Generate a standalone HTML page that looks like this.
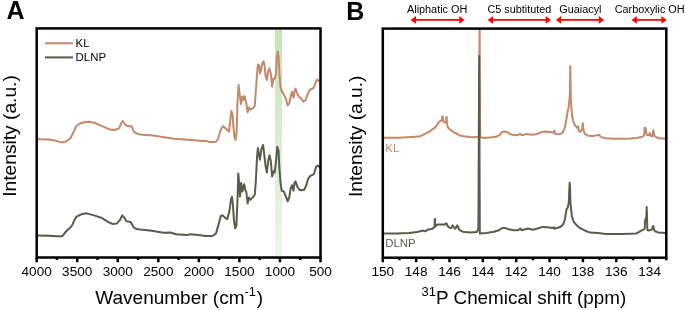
<!DOCTYPE html>
<html><head><meta charset="utf-8"><style>
html,body{margin:0;padding:0;background:#fff;}
svg{display:block;font-family:"Liberation Sans",sans-serif;will-change:transform;}
</style></head><body>
<svg width="685" height="310" viewBox="0 0 685 310">
<rect width="685" height="310" fill="#fff"/>
<defs>
<linearGradient id="g" x1="0" y1="0" x2="0" y2="1"><stop offset="0" stop-color="#c6e3bb"/><stop offset="1" stop-color="#edf6ea"/></linearGradient>
<clipPath id="ca"><rect x="36.7" y="28.4" width="283.8" height="229.1"/></clipPath>
<clipPath id="cb"><rect x="382.8" y="28.6" width="283.49999999999994" height="229.1"/></clipPath>
</defs>
<rect x="275" y="29.4" width="7" height="226.6" fill="url(#g)"/>
<g clip-path="url(#ca)" fill="none" stroke-width="2.0" stroke-linejoin="round">
<path d="M37.5,139.3 L48.6,139.5 L55.0,140.6 L58.0,141.4 L61.8,142.4 L65.0,141.8 L67.5,140.6 L70.7,137.8 L73.5,132.0 L76.5,125.8 L78.7,124.2 L81.0,123.2 L84.3,122.2 L88.9,121.8 L94.5,122.8 L97.0,123.8 L103.3,126.7 L109.6,129.4 L114.8,130.0 L119.0,128.4 L121.1,123.5 L122.8,121.0 L125.3,124.8 L128.5,126.3 L131.6,126.3 L133.8,131.6 L136.9,133.6 L140.0,134.5 L145.3,134.9 L151.3,135.3 L162.6,137.0 L173.9,138.7 L185.2,139.6 L196.5,140.4 L201.0,140.7 L207.2,141.3 L210.0,142.1 L215.7,142.0 L218.1,138.8 L220.5,130.4 L223.0,126.0 L226.6,129.2 L229.0,131.6 L230.2,120.7 L231.4,111.0 L232.6,114.7 L233.3,125.6 L234.5,137.6 L235.7,140.0 L236.7,130.4 L237.4,103.8 L238.6,85.0 L239.9,96.0 L241.0,104.0 L242.2,96.5 L243.3,100.0 L244.5,96.0 L245.5,100.0 L246.3,103.2 L247.6,112.3 L248.9,107.6 L250.2,109.7 L252.7,108.4 L254.8,105.8 L255.8,91.6 L257.1,73.5 L257.9,64.5 L259.2,65.8 L260.0,73.5 L261.3,68.4 L262.5,62.7 L263.6,61.4 L264.6,65.8 L265.6,76.1 L266.9,80.0 L268.2,71.0 L269.5,68.4 L270.8,73.5 L272.1,86.5 L273.4,78.7 L274.7,78.7 L276.0,73.5 L276.7,58.0 L277.8,51.6 L278.5,55.5 L279.3,71.0 L280.4,86.5 L281.0,89.0 L282.3,92.0 L283.9,94.8 L285.8,98.7 L287.7,105.5 L289.3,103.5 L290.6,96.8 L292.0,92.0 L292.8,94.8 L293.5,97.7 L294.5,91.0 L295.5,88.6 L297.4,93.9 L299.4,97.2 L301.3,98.3 L303.2,101.6 L305.2,100.6 L307.1,95.8 L309.0,91.0 L311.0,89.0 L312.9,88.6 L314.4,86.1 L315.8,82.3 L317.2,79.4 L318.7,80.9 L320.0,81.3" stroke="#c4896a"/>
<path d="M37.5,235.6 L48.6,235.8 L57.0,236.2 L62.3,236.2 L66.3,231.2 L70.8,227.0 L72.6,224.5 L73.6,221.9 L75.0,219.0 L76.4,216.9 L78.7,215.5 L81.5,214.3 L84.3,213.6 L87.7,213.6 L94.9,215.6 L101.2,217.7 L107.5,221.7 L112.7,224.0 L116.9,223.4 L120.1,219.8 L122.2,215.4 L123.9,217.1 L126.4,221.3 L130.6,221.9 L133.8,227.6 L136.9,229.1 L140.0,229.6 L147.4,230.3 L151.7,230.8 L163.4,232.8 L170.4,232.5 L176.2,234.3 L186.7,235.1 L190.2,234.3 L198.4,235.1 L205.4,236.0 L212.4,236.0 L215.9,233.7 L218.3,225.4 L220.7,216.2 L222.4,215.2 L224.3,216.9 L227.2,219.3 L229.2,212.1 L231.1,198.8 L232.0,196.9 L232.8,203.6 L234.0,220.6 L235.2,228.3 L236.4,225.4 L237.6,196.4 L238.3,173.5 L239.3,184.3 L240.0,196.4 L241.2,183.1 L242.4,191.6 L243.2,188.0 L244.1,184.3 L245.3,190.0 L246.3,192.0 L247.6,203.5 L248.9,197.6 L250.2,199.7 L252.7,197.6 L254.8,194.5 L255.8,181.6 L257.1,155.8 L257.9,148.0 L259.2,155.8 L260.0,159.7 L261.3,149.4 L263.1,145.0 L264.4,155.8 L265.6,166.1 L266.9,172.6 L268.2,161.0 L269.5,155.3 L270.8,161.0 L272.1,176.5 L273.4,171.3 L274.7,172.6 L276.0,161.0 L277.3,146.8 L278.5,150.6 L279.3,166.1 L280.4,181.6 L281.6,190.6 L283.9,191.6 L285.8,196.4 L287.7,201.3 L289.3,197.4 L290.6,188.7 L292.0,185.2 L292.8,188.7 L293.5,190.6 L294.5,182.9 L295.5,181.4 L297.4,186.8 L299.4,189.7 L301.3,190.3 L304.2,189.7 L306.1,185.8 L308.1,179.0 L310.0,176.1 L311.9,175.2 L313.9,174.2 L314.8,171.3 L316.2,166.5 L317.7,165.5 L320.0,167.4" stroke="#575e48"/>
</g>
<g clip-path="url(#cb)" fill="none" stroke-width="2.0" stroke-linejoin="round">
<path d="M383.5,137.8 L399.4,137.8 L414.9,136.8 L420.0,136.3 L425.8,133.4 L430.0,131.3 L432.3,129.3 L434.6,127.8 L436.2,126.3 L437.7,123.9 L439.3,121.6 L440.8,120.8 L442.0,120.4 L442.3,116.2 L442.7,116.2 L443.0,120.4 L443.9,121.6 L445.1,122.8 L446.1,121.6 L446.3,117.0 L446.7,117.0 L446.9,121.6 L447.4,125.5 L448.2,127.8 L449.7,129.3 L451.7,130.9 L454.0,132.4 L456.0,133.2 L459.2,135.2 L463.6,136.3 L470.0,137.1 L473.0,137.2 L478.9,136.8 L479.6,20.0 L480.2,137.0 L483.2,137.9 L489.7,137.4 L496.1,136.8 L499.4,135.2 L501.8,132.3 L504.2,131.5 L507.4,131.9 L509.0,133.5 L512.3,134.7 L517.1,135.2 L520.3,133.9 L521.9,135.2 L526.8,133.9 L531.6,134.7 L536.5,134.2 L541.3,132.3 L544.5,131.5 L549.4,131.9 L552.6,132.6 L554.5,130.6 L555.0,133.9 L559.0,134.2 L562.3,133.1 L563.4,131.0 L565.0,127.2 L566.0,121.0 L567.0,115.5 L567.8,110.5 L568.6,108.0 L569.3,101.0 L569.9,95.0 L570.3,66.0 L570.7,95.0 L571.1,103.0 L571.6,110.5 L572.2,116.3 L573.2,121.0 L574.3,124.1 L575.8,126.4 L577.3,127.9 L578.1,126.4 L578.9,131.0 L580.4,131.8 L582.0,129.5 L582.8,123.3 L583.5,130.2 L585.1,134.1 L588.0,135.7 L593.9,135.9 L598.9,134.7 L601.3,137.1 L606.1,138.2 L614.2,138.7 L622.3,138.7 L630.3,138.4 L636.8,137.9 L641.6,137.1 L644.0,135.5 L644.8,127.4 L645.6,128.2 L646.5,134.7 L648.9,135.2 L649.7,133.1 L650.5,135.8 L652.1,136.3 L653.4,130.3 L654.2,135.8 L657.7,137.9 L665.5,138.7" stroke="#c4896a"/>
<path d="M383.5,233.5 L396.1,233.5 L409.0,233.1 L417.1,231.9 L423.5,230.6 L425.0,231.3 L427.5,229.8 L430.0,229.2 L432.5,228.8 L433.8,227.5 L434.6,227.1 L434.8,219.1 L435.1,219.1 L435.2,226.3 L436.3,225.4 L437.6,224.6 L440.1,224.6 L442.6,224.4 L444.3,224.7 L446.0,223.3 L447.0,224.2 L448.0,226.7 L450.1,227.9 L451.4,227.9 L452.7,225.4 L453.9,227.1 L455.2,228.8 L456.4,227.1 L457.3,225.4 L458.1,226.7 L459.0,229.2 L460.2,230.3 L462.7,231.7 L465.2,232.1 L470.0,232.5 L476.8,231.9 L478.4,229.0 L479.2,56.0 L479.8,233.4 L486.1,232.9 L494.1,231.8 L499.0,230.2 L502.2,228.1 L505.4,228.1 L508.6,229.2 L513.5,230.2 L518.3,230.2 L520.3,228.5 L521.5,230.2 L528.0,228.5 L532.8,229.7 L537.7,228.5 L542.5,226.9 L547.4,227.3 L552.2,228.1 L553.8,227.3 L554.6,228.9 L556.0,228.2 L560.7,226.7 L563.5,223.8 L565.0,219.2 L565.8,213.5 L566.7,208.8 L567.8,207.5 L568.8,202.3 L569.3,190.0 L569.7,182.6 L570.1,190.0 L570.4,202.3 L571.0,207.9 L571.9,216.3 L573.8,222.0 L576.6,225.2 L580.1,228.2 L585.2,230.7 L590.3,232.6 L598.0,233.0 L605.7,233.9 L622.0,234.0 L630.2,233.7 L636.0,233.6 L640.9,230.8 L644.0,229.4 L644.8,228.0 L645.2,219.6 L645.8,222.0 L646.4,215.0 L646.7,207.1 L647.0,215.0 L647.3,229.5 L648.2,230.6 L650.7,230.0 L652.2,229.2 L652.8,226.3 L653.4,226.3 L654.0,229.5 L655.0,231.2 L658.0,232.4 L665.5,233.0" stroke="#575e48"/>
</g>
<rect x="36.7" y="28.4" width="283.80" height="229.10" fill="none" stroke="#000" stroke-width="2.5"/>
<rect x="382.8" y="28.6" width="283.50" height="229.10" fill="none" stroke="#000" stroke-width="2.5"/>
<path d="M36.70,257.5 V262.15 M56.97,257.5 V259.95 M77.24,257.5 V262.15 M97.51,257.5 V259.95 M117.79,257.5 V262.15 M138.06,257.5 V259.95 M158.33,257.5 V262.15 M178.60,257.5 V259.95 M198.87,257.5 V262.15 M219.14,257.5 V259.95 M239.41,257.5 V262.15 M259.69,257.5 V259.95 M279.96,257.5 V262.15 M300.23,257.5 V259.95 M320.50,257.5 V262.15 M382.80,257.7 V262.34999999999997 M399.48,257.7 V260.15 M416.15,257.7 V262.34999999999997 M432.83,257.7 V260.15 M449.51,257.7 V262.34999999999997 M466.18,257.7 V260.15 M482.86,257.7 V262.34999999999997 M499.54,257.7 V260.15 M516.21,257.7 V262.34999999999997 M532.89,257.7 V260.15 M549.56,257.7 V262.34999999999997 M566.24,257.7 V260.15 M582.92,257.7 V262.34999999999997 M599.59,257.7 V260.15 M616.27,257.7 V262.34999999999997 M632.95,257.7 V260.15 M649.62,257.7 V262.34999999999997 M666.30,257.7 V260.15" stroke="#000" stroke-width="2.5" fill="none"/>
<g font-size="13.6" fill="#000"><text x="36.70" y="275.8" text-anchor="middle">4000</text><text x="77.24" y="275.8" text-anchor="middle">3500</text><text x="117.79" y="275.8" text-anchor="middle">3000</text><text x="158.33" y="275.8" text-anchor="middle">2500</text><text x="198.87" y="275.8" text-anchor="middle">2000</text><text x="239.41" y="275.8" text-anchor="middle">1500</text><text x="279.96" y="275.8" text-anchor="middle">1000</text><text x="320.50" y="275.8" text-anchor="middle">500</text><text x="382.80" y="275.8" text-anchor="middle">150</text><text x="416.15" y="275.8" text-anchor="middle">148</text><text x="449.51" y="275.8" text-anchor="middle">146</text><text x="482.86" y="275.8" text-anchor="middle">144</text><text x="516.21" y="275.8" text-anchor="middle">142</text><text x="549.56" y="275.8" text-anchor="middle">140</text><text x="582.92" y="275.8" text-anchor="middle">138</text><text x="616.27" y="275.8" text-anchor="middle">136</text><text x="649.62" y="275.8" text-anchor="middle">134</text></g>
<text x="95.3" y="304.4" font-size="19">Wavenumber (cm<tspan dy="-8.4" font-size="12.8">-1</tspan><tspan dy="8.4" dx="0.9">)</tspan></text>
<text x="421.6" y="304.4" font-size="18.85"><tspan dy="-8" font-size="13">31</tspan><tspan dy="8">P Chemical shift (ppm)</tspan></text>
<text transform="translate(15.9,136) rotate(-90)" text-anchor="middle" font-size="19.2">Intensity (a.u.)</text>
<text transform="translate(361.8,136.3) rotate(-90)" text-anchor="middle" font-size="19.2">Intensity (a.u.)</text>
<text x="6.6" y="18.8" font-size="25" font-weight="bold">A</text>
<text x="346.2" y="19.7" font-size="25" font-weight="bold">B</text>
<path d="M45,43.3 H73" stroke="#c4896a" stroke-width="2"/>
<path d="M45,57.4 H73" stroke="#575e48" stroke-width="2"/>
<text x="75.6" y="47.2" font-size="11.4">KL</text>
<text x="75.6" y="61.4" font-size="11.4">DLNP</text>
<text x="385.3" y="152.2" font-size="11.4" fill="#c4896a">KL</text>
<text x="385.3" y="247.4" font-size="11.4" fill="#575e48">DLNP</text>
<text x="407" y="13.1" font-size="10.85">Aliphatic OH</text>
<path d="M414.7,19.9 H460.6" stroke="#f00" stroke-width="1.7"/>
<path d="M410.7,19.9 L416.0,15.95 L416.0,23.85 Z M464.6,19.9 L459.3,15.95 L459.3,23.85 Z" fill="#f00"/>
<text x="487.5" y="13.1" font-size="10.85">C5 subtituted</text>
<path d="M491.7,19.9 H547" stroke="#f00" stroke-width="1.7"/>
<path d="M487.7,19.9 L493.0,15.95 L493.0,23.85 Z M551,19.9 L545.7,15.95 L545.7,23.85 Z" fill="#f00"/>
<text x="559.3" y="13.1" font-size="10.85">Guaiacyl</text>
<path d="M559.9,19.9 H600.1" stroke="#f00" stroke-width="1.7"/>
<path d="M555.9,19.9 L561.1999999999999,15.95 L561.1999999999999,23.85 Z M604.1,19.9 L598.8000000000001,15.95 L598.8000000000001,23.85 Z" fill="#f00"/>
<text x="614.7" y="13.1" font-size="10.85">Carboxylic OH</text>
<path d="M635.6,19.9 H662.8" stroke="#f00" stroke-width="1.7"/>
<path d="M631.6,19.9 L636.9,15.95 L636.9,23.85 Z M666.8,19.9 L661.5,15.95 L661.5,23.85 Z" fill="#f00"/>
</svg>
</body></html>
